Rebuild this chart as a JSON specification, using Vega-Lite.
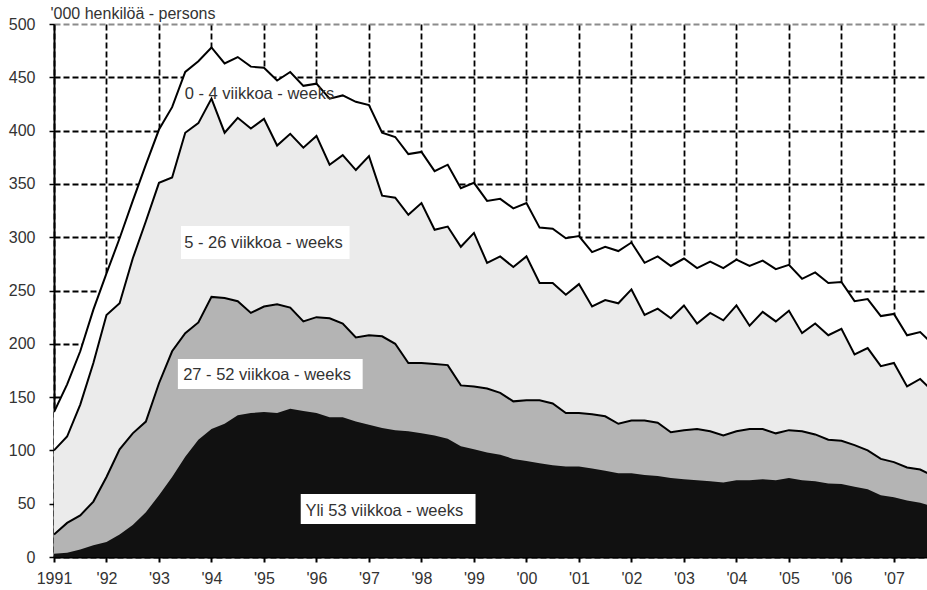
{
  "$schema": "https://vega.github.io/schema/vega-lite/v6.json",
  "width": 873,
  "height": 533,
  "autosize": {"type": "none"},
  "padding": {"left": 54, "top": 24, "right": 0, "bottom": 33},
  "background": "white",
  "config": {
    "view": {"stroke": null},
    "font": "Liberation Sans",
    "axis": {
      "labelFont": "Liberation Sans",
      "labelFontSize": 16,
      "labelColor": "#333333",
      "labelFlush": false,
      "domainColor": "black",
      "domainWidth": 2,
      "tickColor": "black",
      "tickWidth": 1.5,
      "tickSize": 5,
      "gridDash": [6, 3],
      "gridWidth": 1.8
    }
  },
  "datasets": {
    "series": [
      {"t": 1991.00, "T": 136, "S": 100, "D": 21, "B": 3},
      {"t": 1991.25, "T": 162, "S": 113, "D": 32, "B": 4},
      {"t": 1991.50, "T": 193, "S": 143, "D": 39, "B": 7},
      {"t": 1991.75, "T": 232, "S": 182, "D": 52, "B": 11},
      {"t": 1992.00, "T": 266, "S": 227, "D": 75, "B": 14},
      {"t": 1992.25, "T": 299, "S": 238, "D": 101, "B": 21},
      {"t": 1992.50, "T": 334, "S": 280, "D": 116, "B": 30},
      {"t": 1992.75, "T": 368, "S": 315, "D": 127, "B": 42},
      {"t": 1993.00, "T": 401, "S": 351, "D": 163, "B": 58},
      {"t": 1993.25, "T": 422, "S": 356, "D": 193, "B": 75},
      {"t": 1993.50, "T": 455, "S": 398, "D": 210, "B": 94},
      {"t": 1993.75, "T": 465, "S": 407, "D": 220, "B": 110},
      {"t": 1994.00, "T": 478, "S": 430, "D": 244, "B": 120},
      {"t": 1994.25, "T": 463, "S": 398, "D": 243, "B": 125},
      {"t": 1994.50, "T": 469, "S": 412, "D": 240, "B": 133},
      {"t": 1994.75, "T": 460, "S": 402, "D": 229, "B": 135},
      {"t": 1995.00, "T": 459, "S": 411, "D": 235, "B": 136},
      {"t": 1995.25, "T": 447, "S": 386, "D": 237, "B": 135},
      {"t": 1995.50, "T": 455, "S": 397, "D": 234, "B": 139},
      {"t": 1995.75, "T": 442, "S": 384, "D": 221, "B": 137},
      {"t": 1996.00, "T": 444, "S": 395, "D": 225, "B": 135},
      {"t": 1996.25, "T": 430, "S": 368, "D": 224, "B": 131},
      {"t": 1996.50, "T": 433, "S": 377, "D": 219, "B": 131},
      {"t": 1996.75, "T": 427, "S": 363, "D": 206, "B": 127},
      {"t": 1997.00, "T": 424, "S": 376, "D": 208, "B": 124},
      {"t": 1997.25, "T": 398, "S": 339, "D": 207, "B": 121},
      {"t": 1997.50, "T": 394, "S": 337, "D": 200, "B": 119},
      {"t": 1997.75, "T": 378, "S": 321, "D": 182, "B": 118},
      {"t": 1998.00, "T": 380, "S": 332, "D": 182, "B": 116},
      {"t": 1998.25, "T": 362, "S": 307, "D": 181, "B": 114},
      {"t": 1998.50, "T": 368, "S": 310, "D": 180, "B": 111},
      {"t": 1998.75, "T": 346, "S": 291, "D": 161, "B": 104},
      {"t": 1999.00, "T": 351, "S": 304, "D": 160, "B": 101},
      {"t": 1999.25, "T": 334, "S": 276, "D": 158, "B": 98},
      {"t": 1999.50, "T": 336, "S": 282, "D": 154, "B": 96},
      {"t": 1999.75, "T": 327, "S": 272, "D": 146, "B": 92},
      {"t": 2000.00, "T": 332, "S": 282, "D": 147, "B": 90},
      {"t": 2000.25, "T": 309, "S": 257, "D": 147, "B": 88},
      {"t": 2000.50, "T": 308, "S": 257, "D": 144, "B": 86},
      {"t": 2000.75, "T": 299, "S": 246, "D": 135, "B": 85},
      {"t": 2001.00, "T": 301, "S": 256, "D": 135, "B": 85},
      {"t": 2001.25, "T": 286, "S": 235, "D": 134, "B": 83},
      {"t": 2001.50, "T": 291, "S": 241, "D": 132, "B": 81},
      {"t": 2001.75, "T": 287, "S": 238, "D": 125, "B": 78.5},
      {"t": 2002.00, "T": 295, "S": 251, "D": 128, "B": 78.5},
      {"t": 2002.25, "T": 276, "S": 227, "D": 128, "B": 77},
      {"t": 2002.50, "T": 282, "S": 233, "D": 126, "B": 76},
      {"t": 2002.75, "T": 273, "S": 224, "D": 117, "B": 74},
      {"t": 2003.00, "T": 280, "S": 236, "D": 119, "B": 73},
      {"t": 2003.25, "T": 271, "S": 219, "D": 120, "B": 72},
      {"t": 2003.50, "T": 277, "S": 229, "D": 118, "B": 71},
      {"t": 2003.75, "T": 271, "S": 222, "D": 114, "B": 70},
      {"t": 2004.00, "T": 279, "S": 236, "D": 118, "B": 72},
      {"t": 2004.25, "T": 273, "S": 217, "D": 120, "B": 72},
      {"t": 2004.50, "T": 278, "S": 230, "D": 120, "B": 73},
      {"t": 2004.75, "T": 270, "S": 221, "D": 116, "B": 72},
      {"t": 2005.00, "T": 274, "S": 231, "D": 119, "B": 74},
      {"t": 2005.25, "T": 261, "S": 210, "D": 118, "B": 72},
      {"t": 2005.50, "T": 267, "S": 219, "D": 115, "B": 71},
      {"t": 2005.75, "T": 257, "S": 208, "D": 110, "B": 69},
      {"t": 2006.00, "T": 258, "S": 214, "D": 109, "B": 68.5},
      {"t": 2006.25, "T": 240, "S": 190, "D": 105, "B": 66},
      {"t": 2006.50, "T": 242, "S": 196, "D": 100, "B": 63.5},
      {"t": 2006.75, "T": 226, "S": 179, "D": 92, "B": 58},
      {"t": 2007.00, "T": 228, "S": 182, "D": 89, "B": 56},
      {"t": 2007.25, "T": 208, "S": 160, "D": 84, "B": 53},
      {"t": 2007.50, "T": 211, "S": 167, "D": 82, "B": 51},
      {"t": 2007.75, "T": 199, "S": 155, "D": 76, "B": 47}
    ],
    "labels": [
      {"label": "0 - 4 viikkoa - weeks", "x": 1993.49, "y": 429.6, "box": false},
      {"label": "5 - 26 viikkoa - weeks", "x": 1993.48, "y": 289.6, "box": true, "x1": 1993.42, "x2": 1996.63, "y1": 310.5, "y2": 279.5},
      {"label": "27 - 52 viikkoa - weeks", "x": 1993.46, "y": 166, "box": true, "x1": 1993.36, "x2": 1996.88, "y1": 185.7, "y2": 157.6},
      {"label": "Yli 53 viikkoa -  weeks", "x": 1995.79, "y": 38.5, "box": true, "x1": 1995.70, "x2": 1999.03, "y1": 59.1, "y2": 31.0}
    ]
  },
  "layer": [
    {
      "data": {"name": "series"},
      "mark": {"type": "area", "fill": "white", "clip": true},
      "encoding": {
        "x": {
          "field": "t", "type": "quantitative",
          "scale": {"domain": [1991, 2007.63], "nice": false, "zero": false},
          "axis": {
            "title": null,
            "values": [1991, 1992, 1993, 1994, 1995, 1996, 1997, 1998, 1999, 2000, 2001, 2002, 2003, 2004, 2005, 2006, 2007],
            "labelExpr": "datum.value == 1991 ? '1991' : \"'\" + substring(toString(datum.value), 2)",
            "labelPadding": 8,
            "labelFlush": false,
            "labelOverlap": false,
            "tickWidth": 2,
            "grid": true,
            "gridColor": "black"
          }
        },
        "y": {
          "field": "T", "type": "quantitative",
          "scale": {"domain": [0, 500], "nice": false},
          "axis": {
            "title": "'000 henkilöä - persons",
            "titleAngle": 0,
            "titleAlign": "left",
            "titleBaseline": "alphabetic",
            "titleX": -4,
            "titleY": -6,
            "titleFont": "Liberation Sans",
            "titleFontSize": 16,
            "titleFontWeight": "normal",
            "titleColor": "#333333",
            "values": [0, 50, 100, 150, 200, 250, 300, 350, 400, 450, 500],
            "labelPadding": 14,
            "labelFlush": false,
            "grid": true,
            "gridColor": {"condition": {"test": "datum.value == 500", "value": "#8c8c8c"}, "value": "black"}
          }
        }
      }
    },
    {
      "data": {"name": "series"},
      "mark": {"type": "area", "fill": "#ebebeb", "clip": true},
      "encoding": {"x": {"field": "t", "type": "quantitative"}, "y": {"field": "S", "type": "quantitative"}}
    },
    {
      "data": {"name": "series"},
      "mark": {"type": "area", "fill": "#b4b4b4", "clip": true},
      "encoding": {"x": {"field": "t", "type": "quantitative"}, "y": {"field": "D", "type": "quantitative"}}
    },
    {
      "data": {"name": "series"},
      "mark": {"type": "area", "fill": "#111111", "clip": true},
      "encoding": {"x": {"field": "t", "type": "quantitative"}, "y": {"field": "B", "type": "quantitative"}}
    },
    {
      "data": {"name": "series"},
      "mark": {"type": "line", "color": "black", "strokeWidth": 2, "clip": true},
      "encoding": {"x": {"field": "t", "type": "quantitative"}, "y": {"field": "T", "type": "quantitative"}}
    },
    {
      "data": {"name": "series"},
      "mark": {"type": "line", "color": "black", "strokeWidth": 2, "clip": true},
      "encoding": {"x": {"field": "t", "type": "quantitative"}, "y": {"field": "S", "type": "quantitative"}}
    },
    {
      "data": {"name": "series"},
      "mark": {"type": "line", "color": "black", "strokeWidth": 2, "clip": true},
      "encoding": {"x": {"field": "t", "type": "quantitative"}, "y": {"field": "D", "type": "quantitative"}}
    },
    {
      "data": {"name": "labels"},
      "transform": [{"filter": "datum.box"}],
      "mark": {"type": "rect", "fill": "white"},
      "encoding": {
        "x": {"field": "x1", "type": "quantitative"},
        "x2": {"field": "x2"},
        "y": {"field": "y1", "type": "quantitative"},
        "y2": {"field": "y2"}
      }
    },
    {
      "data": {"name": "labels"},
      "mark": {"type": "text", "align": "left", "baseline": "alphabetic", "font": "Liberation Sans", "fontSize": 16.5, "color": "#333333"},
      "encoding": {
        "x": {"field": "x", "type": "quantitative"},
        "y": {"field": "y", "type": "quantitative"},
        "text": {"field": "label"}
      }
    }
  ]
}
